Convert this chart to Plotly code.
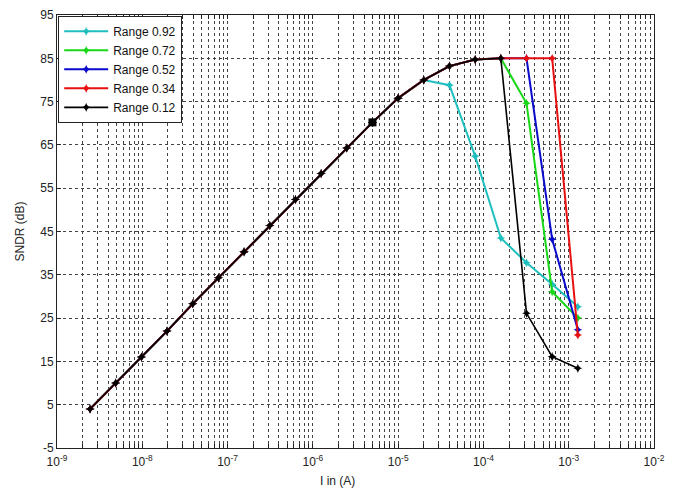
import plotly.graph_objects as go

# Input current sweep (A)
current = [2.44e-9, 4.88e-9, 9.77e-9, 1.95e-8, 3.91e-8, 7.81e-8, 1.56e-7, 3.13e-7,
           6.25e-7, 1.25e-6, 2.5e-6, 5e-6, 1e-5, 2e-5, 4e-5, 8e-5, 1.6e-4, 3.2e-4,
           6.4e-4, 1.28e-3]

common = [4, 10, 16, 22, 28.3, 34.3, 40.3, 46.4, 52.4, 58.4, 64.3, 70.2, 75.8, 80.0]

sndr_092 = common + [78.8, 62.4, 43.5, 37.8, 32.8, 27.6]
sndr_072 = common + [83.2, 84.7, 85.0, 74.6, 31.1, 25.0]
sndr_052 = common + [83.2, 84.7, 85.0, 85.0, 43.2, 22.3]
sndr_034 = common + [83.2, 84.7, 85.0, 85.0, 85.0, 21.1]
sndr_012 = common + [83.2, 84.7, 85.0, 26.1, 16.1, 13.4]

series_names = ["Range 0.92", "Range 0.72", "Range 0.52", "Range 0.34", "Range 0.12"]
series_values = [sndr_092, sndr_072, sndr_052, sndr_034, sndr_012]
series_colors = ["#1FBFBF", "#18D818", "#0A0ACC", "#E81010", "#000000"]
series_widths = [2, 2, 2, 2, 1.6]

highlight_index = 11  # data-cursor square on the 0.12 curve

decades = [-9, -8, -7, -6, -5, -4, -3, -2]
y_ticks = [-5, 5, 15, 25, 35, 45, 55, 65, 75, 85, 95]
y_ticktext = [str(v) for v in y_ticks]

x_title = "I in (A)"
y_title = "SNDR (dB)"

tickvals, ticktext = [], []
for d in decades:
    for m in range(1, 10):
        if d == -2 and m > 1:
            break
        tickvals.append(m * 10.0 ** d)
        ticktext.append(f"10<sup>{d}</sup>" if m == 1 else "")

fig = go.Figure()
for name, vals, col, w in zip(series_names, series_values, series_colors, series_widths):
    fig.add_trace(go.Scatter(
        x=current[:len(vals)], y=vals, name=name, mode="lines+markers",
        line=dict(color=col, width=w),
        marker=dict(symbol="star-diamond", size=6.5, color=col),
    ))

fig.add_trace(go.Scatter(
    x=[current[highlight_index]], y=[sndr_012[highlight_index]], mode="markers",
    marker=dict(symbol="square", size=8, color="black"), showlegend=False,
))

grid = dict(showgrid=True, gridcolor="#444444", gridwidth=1, griddash="3px,3px")

fig.update_layout(
    width=676, height=489,
    margin=dict(l=57, r=22, t=15, b=41),
    paper_bgcolor="white", plot_bgcolor="white",
    font=dict(family="Liberation Sans, Arial, sans-serif", size=12, color="#222"),
    showlegend=True,
    legend=dict(x=0.002, y=0.998, xanchor="left", yanchor="top",
                bgcolor="white", bordercolor="#222", borderwidth=1,
                font=dict(size=12, color="#111"), tracegroupgap=0,
                itemwidth=44),
    xaxis=dict(type="log", range=[-9, -2], tickvals=tickvals, ticktext=ticktext,
               ticks="inside", ticklen=4, tickcolor="#222", automargin=False,
               ticklabelstandoff=3,
               showline=True, linecolor="#222", linewidth=1, mirror="ticks",
               zeroline=False, **grid),
    yaxis=dict(range=[-5, 95], tickvals=y_ticks, ticktext=y_ticktext,
               ticks="inside", ticklen=4, tickcolor="#222", automargin=False,
               showline=True, linecolor="#222", linewidth=1, mirror="ticks",
               zeroline=False, **grid),
    annotations=[
        dict(text=x_title, xref="paper", yref="paper", x=0.47, y=-0.077,
             xanchor="center", yanchor="middle", showarrow=False,
             font=dict(size=12, color="#222")),
        dict(text=y_title, xref="paper", yref="paper", x=-0.062, y=0.5,
             xanchor="center", yanchor="middle", showarrow=False, textangle=-90,
             font=dict(size=12, color="#222")),
    ],
)

fig.write_html(
    "out.html",
    config={"displayModeBar": False},
    post_script="document.body.style.margin='0';document.body.style.overflow='hidden';",
)
